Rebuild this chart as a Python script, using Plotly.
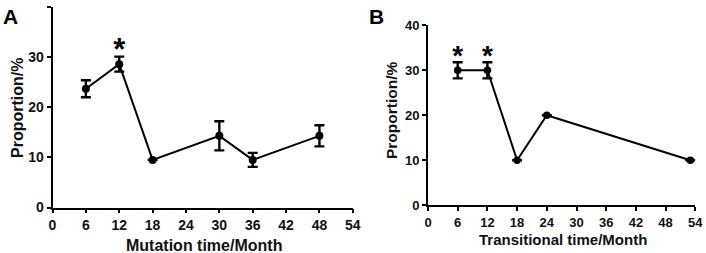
import plotly.graph_objects as go

# Panel A data
a_months = [6, 12, 18, 30, 36, 48]
a_prop = [23.7, 28.6, 9.5, 14.3, 9.5, 14.3]
a_err = [1.7, 1.5, 0.0, 2.9, 1.4, 2.1]
a_star_x = [12]
a_star_y = [31.0]

# Panel B data
b_months = [6, 12, 18, 24, 53]
b_prop = [30.0, 30.0, 10.0, 20.0, 10.0]
b_err = [1.8, 1.8, 0.0, 0.0, 0.0]
b_star_x = [6, 12]
b_star_y = [32.8, 32.8]

x_ticks = [0, 6, 12, 18, 24, 30, 36, 42, 48, 54]
y_ticks = [0, 10, 20, 30, 40]

FONT = "Liberation Sans"
W, H = 706, 253
TXT = "#111"

fig = go.Figure()

def add_series(xs, ys, errs, xa, ya, msize):
    fig.add_trace(go.Scatter(
        x=xs, y=ys, mode="lines+markers",
        line=dict(color="black", width=2),
        marker=dict(color="black", size=msize),
        error_y=dict(type="data", array=errs, visible=True, color="black",
                     thickness=2.4, width=5),
        xaxis=xa, yaxis=ya, showlegend=False, hoverinfo="skip"))

def add_stars(xs, ys, xa, ya, size):
    fig.add_trace(go.Scatter(
        x=xs, y=ys, mode="text", text=["*"] * len(xs),
        textfont=dict(family=FONT, size=size, color="black", weight="bold"),
        textposition="middle center",
        xaxis=xa, yaxis=ya, showlegend=False, hoverinfo="skip"))

add_series(a_months, a_prop, a_err, "x", "y", 8)
add_stars(a_star_x, a_star_y, "x", "y", 31)
add_series(b_months, b_prop, b_err, "x2", "y2", 7.5)
add_stars(b_star_x, b_star_y, "x2", "y2", 28)

def px_x(p):
    return p / W

def px_y(p):
    return 1 - p / H

axis_common = dict(showline=True, linecolor="black", linewidth=1.8,
                   ticks="outside", ticklen=4, tickwidth=1.8, tickcolor="black",
                   showgrid=False, zeroline=False, mirror=False, automargin=False)

def label(text, x, y, size, angle=0):
    return dict(text=text, x=px_x(x), y=px_y(y), xref="paper", yref="paper",
                xanchor="center", yanchor="middle", showarrow=False, textangle=angle,
                font=dict(family=FONT, size=size, color=TXT, weight="bold"))

fig.update_layout(
    width=W, height=H,
    margin=dict(l=0, r=0, t=0, b=0),
    paper_bgcolor="white", plot_bgcolor="white",
    xaxis=dict(domain=[px_x(52.5), px_x(352.8)], range=[0, 54], tickvals=x_ticks,
               anchor="y", tickfont=dict(family=FONT, size=14, color=TXT, weight="bold"),
               **axis_common),
    yaxis=dict(domain=[px_y(207.5), px_y(7)], range=[0, 40], tickvals=y_ticks,
               anchor="x", tickfont=dict(family=FONT, size=14, color=TXT, weight="bold"),
               **axis_common),
    xaxis2=dict(domain=[px_x(428), px_x(695.3)], range=[0, 54], tickvals=x_ticks,
                anchor="y2", tickfont=dict(family=FONT, size=13, color=TXT, weight="bold"),
                **axis_common),
    yaxis2=dict(domain=[px_y(205.2), px_y(25.3)], range=[0, 40], tickvals=y_ticks,
                anchor="x2", tickfont=dict(family=FONT, size=13, color=TXT, weight="bold"),
                **axis_common),
    annotations=[
        label("Mutation time/Month", 204, 245, 16),
        label("Proportion/%", 17, 108, 16, -90),
        label("Transitional time/Month", 563, 239, 15),
        label("Proportion/%", 392, 110, 15.5, -90),
        dict(text="A", x=px_x(1), y=px_y(3), xref="paper", yref="paper",
             xanchor="left", yanchor="top", showarrow=False,
             font=dict(family=FONT, size=21, color="black", weight="bold")),
        dict(text="B", x=px_x(367), y=px_y(3), xref="paper", yref="paper",
             xanchor="left", yanchor="top", showarrow=False,
             font=dict(family=FONT, size=21, color="black", weight="bold")),
    ],
)

fig.write_html("out.html", config={"displayModeBar": False},
               post_script="document.body.style.margin='0';document.body.style.overflow='hidden';")
